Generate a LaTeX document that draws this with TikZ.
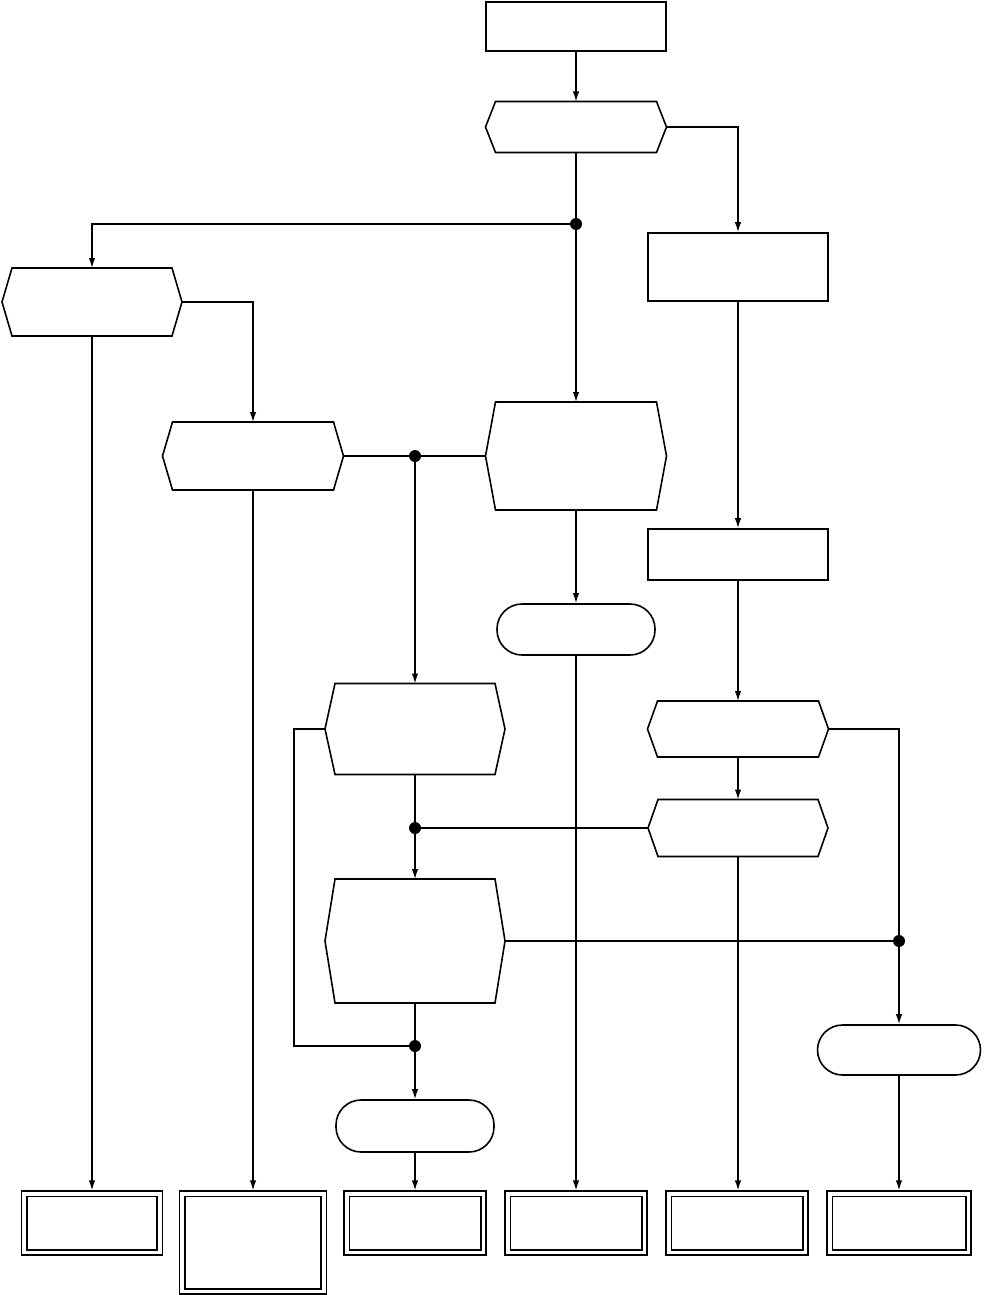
\documentclass[tikz,border=0pt]{standalone}
\usetikzlibrary{arrows.meta}
\tikzset{
  x=1pt, y=-1pt,
  shapeline/.style={line width=1.6pt, line join=miter},
  boxnode/.style={draw, shapeline, inner sep=0pt},
  termnode/.style={draw, shapeline, inner sep=0pt, rounded corners=25pt},
  ghost/.style={inner sep=0pt, outer sep=0pt},
  dotnode/.style={circle, fill=black, inner sep=0pt, minimum size=12pt},
  conn/.style={line width=1.4pt},
  arr/.style={conn, -{Latex[length=10pt,width=6.5pt]}},
}
% hexagon: name, cx, cy, width, height
\newcommand\hexagonnode[5]{%
  \node[ghost, minimum width=#4pt, minimum height=#5pt] (#1) at (#2,#3) {};
  \draw[shapeline] (#1.west) -- ([xshift=10pt]#1.north west) -- ([xshift=-10pt]#1.north east)
     -- (#1.east) -- ([xshift=-10pt]#1.south east) -- ([xshift=10pt]#1.south west) -- cycle;}
% double-bordered box: name, cx, cy, width, height
\newcommand\dblbox[5]{%
  \node[draw, line width=1.2pt, inner sep=0pt, minimum width=#4pt, minimum height=#5pt] (#1) at (#2,#3) {};
  \draw[line width=1.8pt] ([shift={(6pt,-6pt)}]#1.north west) rectangle ([shift={(-6pt,6pt)}]#1.south east);}
\begin{document}
\begin{tikzpicture}
\useasboundingbox (0,0) rectangle (984,1295);
% nodes
\node[boxnode, minimum width=180pt, minimum height=49pt] (top) at (576,26.5) {};
\hexagonnode{h1}{576}{127}{181}{51}
\node[dotnode] (d1) at (576,224) {};
\hexagonnode{hL}{92}{302}{180}{68}
\node[boxnode, minimum width=180pt, minimum height=68pt] (r1) at (738,267) {};
\hexagonnode{hML}{253}{456}{181}{68}
\node[dotnode] (d2) at (415,456) {};
\hexagonnode{hC}{576}{456}{181}{108}
\node[boxnode, minimum width=180pt, minimum height=51pt] (r2) at (738,554.5) {};
\node[termnode, minimum width=158pt, minimum height=51pt] (t1) at (576,629.5) {};
\hexagonnode{h11}{415}{729}{180}{91}
\hexagonnode{h12}{738}{729}{181}{56}
\node[dotnode] (d5) at (415,828) {};
\hexagonnode{h14}{738}{828}{180}{57}
\hexagonnode{h15}{415}{941}{180}{124}
\node[dotnode] (d3) at (899,941) {};
\node[dotnode] (d4) at (415,1046) {};
\node[termnode, minimum width=163pt, minimum height=50pt] (t2) at (899,1050) {};
\node[termnode, minimum width=158pt, minimum height=52pt] (t3) at (415,1126) {};
\coordinate (c1) at (294,729);
\dblbox{bA}{92}{1223}{141}{64}
\dblbox{bB}{253}{1242.5}{147}{103}
\dblbox{bC}{415}{1223}{142}{64}
\dblbox{bD}{576}{1223}{142}{64}
\dblbox{bE}{737}{1223}{142}{64}
\dblbox{bF}{899}{1223}{144}{64}
% connectors
\draw[arr] (top.south) -- (h1.north);
\draw[arr] (h1.east) -| (r1.north);
\draw[conn] (h1.south) -- (d1);
\draw[arr] (d1) -- (hC.north);
\draw[arr] (d1) -| (hL.north);
\draw[arr] (hL.east) -| (hML.north);
\draw[arr] (hL.south) -- (hL.south |- bA.north);
\draw[conn] (hML.east) -- (d2) -- (hC.west);
\draw[arr] (d2) -- (d2 |- h11.north);
\draw[arr] (hML.south) -- (hML.south |- bB.north);
\draw[arr] (hC.south) -- (t1.north);
\draw[arr] (t1.south) -- (bD.north -| t1.south);
\draw[arr] (r1.south) -- (r2.north);
\draw[arr] (r2.south) -- (r2.south |- h12.north);
\draw[arr] (h12.south) -- (h12.south |- h14.north);
\draw[conn] (h12.east) -| (d3);
\draw[arr] (d3) -- (d3 |- t2.north);
\draw[conn] (h14.west) -- (d5);
\draw[conn] (h11.south) -- (d5);
\draw[arr] (d5) -- (h15.north);
\draw[arr] (h14.south) -- (h14.south |- bE.north);
\draw[conn] (h15.east) -- (d3);
\draw[conn] (h11.west) -- (c1) |- (d4);
\draw[conn] (h15.south) -- (d4);
\draw[arr] (d4) -- (t3.north);
\draw[arr] (t3.south) -- (t3.south |- bC.north);
\draw[arr] (t2.south) -- (t2.south |- bF.north);
\end{tikzpicture}
\end{document}
